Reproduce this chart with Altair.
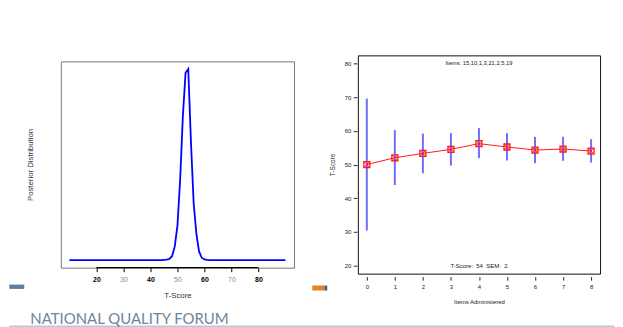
import altair as alt
import pandas as pd

# ---- left panel: posterior distribution ----
posterior_t = [10, 20, 30, 40, 44, 45, 46, 47, 48, 49, 50, 51, 52, 53, 54,
               55, 56, 57, 58, 59, 60, 61, 62, 63, 70, 80, 90]
posterior_p = [0, 0, 0, 0, 0, 0.001, 0.002, 0.006, 0.02, 0.07, 0.18, 0.42,
               0.75, 0.98, 1.0, 0.62, 0.30, 0.14, 0.045, 0.012, 0.003, 0.001,
               0, 0, 0, 0, 0]
left_ticks = [20, 30, 40, 50, 60, 70, 80]

# ---- right panel: CAT progression ----
items = [0, 1, 2, 3, 4, 5, 6, 7, 8]
tscore = [50.0, 52.0, 53.3, 54.5, 56.2, 55.2, 54.3, 54.6, 54.0]
lower = [30.4, 43.9, 47.4, 49.7, 51.9, 51.2, 50.4, 51.1, 50.6]
upper = [69.6, 60.2, 59.2, 59.3, 60.8, 59.3, 58.2, 58.2, 57.5]
right_yticks = [20, 30, 40, 50, 60, 70, 80]
items_label = "Items: 15,10,1,3,21,2,5,19"
summary_label = "T-Score:\u00a0\u00a054\u00a0\u00a0SEM:\u00a0\u00a02"
footer_label = "NATIONAL QUALITY FORUM"

FONT = "Liberation Sans"

post_df = pd.DataFrame({"t": posterior_t, "p": posterior_p})
cat_df = pd.DataFrame({"item": items, "tscore": tscore, "lower": lower, "upper": upper})
one = pd.DataFrame({"k": [0]})


def bar(x0, x1, y0, y1, color):
    return alt.Chart(one).mark_rect(color=color).encode(
        x=alt.value(x0), x2=alt.value(x1), y=alt.value(y0), y2=alt.value(y1)
    )


# ---------------- left ----------------
lx_scale = alt.Scale(domain=[6.8, 93.2], nice=False, zero=False)
ly_scale = alt.Scale(domain=[-0.04, 1.04], nice=False, zero=False)
lx_axis = alt.Axis(
    title="T-Score", values=left_ticks, tickCount=50, format="d", grid=False,
    domain=False, tickSize=4, tickColor="black", tickWidth=1, labelOverlap=False,
    labelFontSize=7, labelPadding=4, labelFont=FONT,
    labelColor={"expr": "datum.value % 20 == 0 ? '#000000' : '#8a8a8a'"},
    labelFontWeight={"expr": "datum.value % 20 == 0 ? 'bold' : 'normal'"},
    titleFontSize=7.8, titleFontWeight="normal", titleColor="#333",
    titlePadding=9, titleFont=FONT,
)
ly_axis = alt.Axis(
    title="Posterior Distribution", labels=False, ticks=False, domain=False,
    grid=False, titleFontSize=7.8, titleFontWeight="normal", titleColor="#333",
    titlePadding=26, titleFont=FONT,
)

curve = alt.Chart(post_df).mark_line(color="#0000ff", strokeWidth=1.8).encode(
    x=alt.X("t:Q", scale=lx_scale, axis=lx_axis),
    y=alt.Y("p:Q", scale=ly_scale, axis=ly_axis),
)
axis_line = alt.Chart(one).mark_rule(color="black", strokeWidth=1.3).encode(
    x=alt.datum(20, scale=lx_scale), x2=alt.datum(80), y=alt.value(207)
)

# slide decorations (pixel positions relative to the left plot);
# kept inside the page width so the SVG is never shrunk
deco = [
    bar(-51.7, -36.7, 224, 228.3, "#5d7d99"),
    bar(252.3, 264.3, 225, 230, "#e8841f"),
    bar(264.3, 267.3, 225, 230, "#4a6177"),
    bar(-51.7, 555.3, 265, 267, "#b9c9d6"),
]
footer = alt.Chart(one).mark_text(
    fontSize=15, color="#6f8598", font="Lato", align="left",
    baseline="alphabetic",
).encode(x=alt.value(-30.7), y=alt.value(264), text=alt.value(footer_label))

left = alt.layer(curve, axis_line, *deco, footer).properties(
    width=234, height=207,
    view=alt.ViewBackground(stroke="#777777", strokeWidth=1),
)

# ---------------- right ----------------
rx_scale = alt.Scale(domain=[-0.32, 8.32], nice=False, zero=False)
ry_scale = alt.Scale(domain=[17.6, 82.4], nice=False, zero=False)
rx_axis = alt.Axis(
    title="Items Administered", values=items, tickCount=50, format="d",
    grid=False, domain=False, offset=3, tickSize=3.5, tickColor="#222",
    tickWidth=1, labelOverlap=False,
    labelFontSize=6, labelColor="#222", labelPadding=3, labelFont=FONT,
    titleFontSize=6, titleFontWeight="normal", titleColor="#222",
    titlePadding=9, titleFont=FONT,
)
ry_axis = alt.Axis(
    title="T-Score", values=right_yticks, tickCount=50, format="d",
    grid=False, domain=False, offset=1, tickSize=3.5, tickColor="#222",
    tickWidth=1, labelOverlap=False,
    labelFontSize=6, labelColor="#222", labelPadding=2.5, labelFont=FONT,
    titleFontSize=6.5, titleFontWeight="normal", titleColor="#222",
    titlePadding=9, titleFont=FONT,
)

base = alt.Chart(cat_df)
ebars = base.mark_rule(color="#4a4aff", opacity=0.8, strokeWidth=2).encode(
    x=alt.X("item:Q", scale=rx_scale, axis=rx_axis),
    y=alt.Y("lower:Q", scale=ry_scale, axis=ry_axis),
    y2="upper:Q",
)
tline = base.mark_line(color="#ff1a1a", strokeWidth=1).encode(
    x=alt.X("item:Q", scale=rx_scale, axis=rx_axis),
    y=alt.Y("tscore:Q", scale=ry_scale, axis=ry_axis),
)
squares = base.mark_point(shape="square", filled=False, color="#ff1a1a",
                          size=36, strokeWidth=1.3, opacity=1).encode(
    x=alt.X("item:Q", scale=rx_scale, axis=rx_axis),
    y=alt.Y("tscore:Q", scale=ry_scale, axis=ry_axis),
)
crosses = base.mark_point(shape="M-1,-1L1,1M1,-1L-1,1", filled=False,
                          color="#ff1a1a", size=36, strokeWidth=0.9,
                          opacity=1).encode(
    x=alt.X("item:Q", scale=rx_scale, axis=rx_axis),
    y=alt.Y("tscore:Q", scale=ry_scale, axis=ry_axis),
)
top_text = alt.Chart(one).mark_text(fontSize=5.8, color="#222", font=FONT,
                                    baseline="middle").encode(
    x=alt.datum(4), y=alt.datum(80), text=alt.value(items_label)
)
bottom_text = alt.Chart(one).mark_text(fontSize=6, color="#222", font=FONT,
                                       baseline="middle").encode(
    x=alt.datum(4), y=alt.datum(20), text=alt.value(summary_label)
)

right = alt.layer(ebars, tline, squares, crosses, top_text,
                  bottom_text).properties(
    width=243, height=219,
    view=alt.ViewBackground(stroke="#111111", strokeWidth=1),
)

chart = alt.hconcat(left, right, spacing=64, bounds="flush", center=True).properties(
    padding={"left": 0, "top": 46, "right": 0, "bottom": 0}
).configure(font=FONT)

chart.save("out.html", embed_options={"renderer": "svg", "actions": False})
